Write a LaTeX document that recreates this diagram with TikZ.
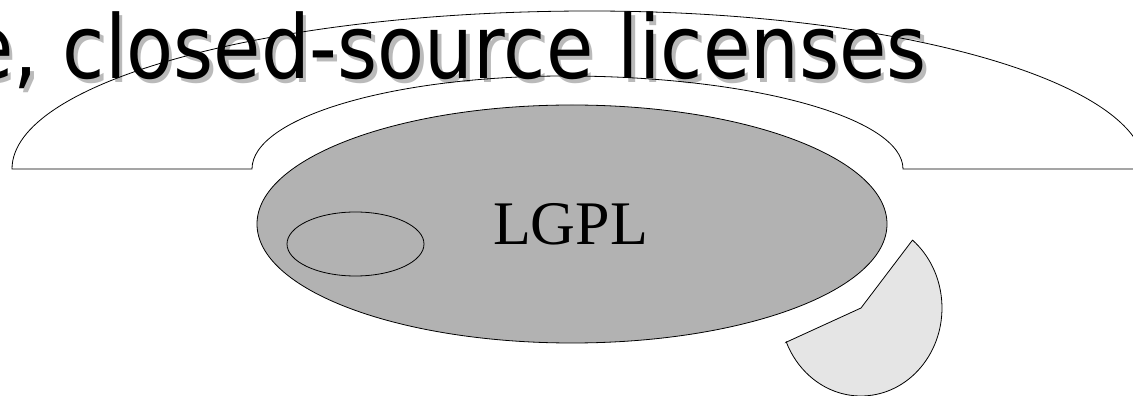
\documentclass[tikz,border=0pt]{standalone}
\usepackage{fontspec}
\setmainfont{Liberation Serif}
\newfontfamily\titlefont{DejaVu Sans}
\tikzset{
  outline/.style={draw=black, line width=0.8pt},
  bigoval/.style={outline, fill=black!30},
  pieslice/.style={outline, fill=black!10},
  titletext/.style={anchor=base east, inner sep=0pt, font=\titlefont\fontsize{88}{88}\selectfont},
}
\begin{document}
\begin{tikzpicture}[x=1pt,y=1pt]
\useasboundingbox (0,0) rectangle (1133,396);
\clip (0,0) rectangle (1133,396);
\fill[white] (0,0) rectangle (1133,396);
% outer arch shape
\path[fill=white] (12,227)
  arc[start angle=180,end angle=90,x radius=578pt,y radius=158pt]
  arc[start angle=90,end angle=0,x radius=555pt,y radius=158pt]
  -- (903,227)
  arc[start angle=0,end angle=90,x radius=338pt,y radius=93pt]
  arc[start angle=90,end angle=180,x radius=313pt,y radius=93pt]
  -- cycle;
% title with shadow
\node[titletext, text=black!27] (titleshadow) at (930.5,313.5) {\scalebox{0.875}[1]{e, closed-source licenses}};
\node[titletext, text=black] (title) at (927,317) {\scalebox{0.875}[1]{e, closed-source licenses}};
\draw[line width=0.8pt] (12,227)
  arc[start angle=180,end angle=90,x radius=578pt,y radius=158pt]
  arc[start angle=90,end angle=0,x radius=555pt,y radius=158pt]
  -- (903,227)
  arc[start angle=0,end angle=90,x radius=338pt,y radius=93pt]
  arc[start angle=90,end angle=180,x radius=313pt,y radius=93pt]
  -- cycle;
% LGPL ellipse
\draw[bigoval] (572,172) ellipse[x radius=315pt, y radius=119pt];
\draw[outline] (355.5,152) ellipse[x radius=68.5pt, y radius=32pt];
\node[inner sep=0pt, anchor=base, font=\fontsize{62}{62}\selectfont] (lgpl) at (570.5,151) {LGPL};
% pie slice
\draw[pieslice] (786,53.7) -- (861,88) -- (912.5,155.9)
  arc[start angle=50.5,end angle=-157.3,x radius=81pt,y radius=88pt] -- cycle;
\end{tikzpicture}
\end{document}
